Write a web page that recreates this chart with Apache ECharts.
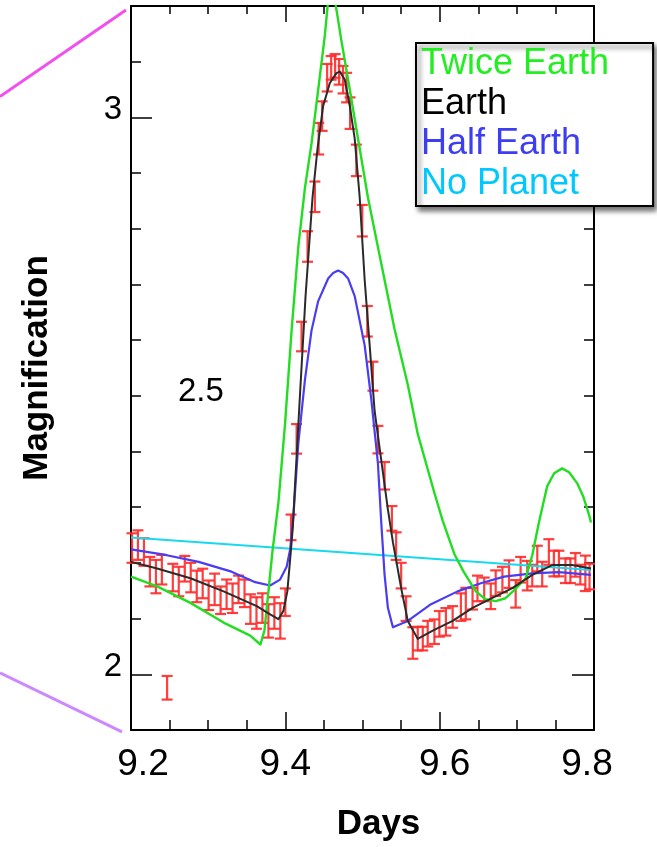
<!DOCTYPE html>
<html>
<head>
<meta charset="utf-8">
<script src="https://cdn.jsdelivr.net/npm/echarts@6/dist/echarts.min.js"></script>
<style>html,body{margin:0;padding:0;background:#fff;overflow:hidden}#c{width:657px;height:847px}</style>
</head>
<body>
<div id="c"></div>
<script>
// ---------- data (days, magnification) ----------
const xTicks = [9.2, 9.4, 9.6, 9.8];
const yMajorTicks = [2, 3];
const yInnerTicks = [2.5];
const legendNames = ['Twice Earth', 'Earth', 'Half Earth', 'No Planet'];

const twiceDays = [9.2000, 9.2339, 9.2770, 9.3200, 9.3545, 9.3677, 9.3729, 9.3781, 9.3832, 9.3910, 9.3996, 9.4081, 9.4168, 9.4254, 9.4339, 9.4426, 9.4512, 9.4548, 9.4587, 9.4626, 9.4665, 9.4726, 9.4835, 9.4942, 9.5071, 9.5243, 9.5415, 9.5587, 9.5716, 9.5932, 9.6039, 9.6190, 9.6310, 9.6468, 9.6594, 9.6726, 9.6852, 9.6964, 9.7114, 9.7200, 9.7286, 9.7394, 9.7484, 9.7587, 9.7677, 9.7781, 9.7858, 9.7935, 9.7961];
const twiceMag  = [2.1755, 2.1578, 2.1283, 2.0929, 2.0694, 2.0535, 2.0783, 2.1489, 2.2196, 2.3080, 2.4493, 2.6171, 2.7673, 2.8733, 2.9528, 3.0500, 3.1472, 3.2002, 3.2373, 3.2231, 3.1913, 3.1383, 3.0500, 2.9617, 2.8557, 2.7378, 2.6201, 2.5200, 2.4316, 2.3256, 2.2761, 2.2161, 2.1843, 2.1489, 2.1348, 2.1313, 2.1366, 2.1507, 2.1724, 2.2138, 2.2726, 2.3380, 2.3610, 2.3698, 2.3627, 2.3433, 2.3203, 2.2868, 2.2726];

const earthDays = [9.2000, 9.2339, 9.2770, 9.3200, 9.3630, 9.3803, 9.3910, 9.3974, 9.4026, 9.4065, 9.4097, 9.4120, 9.4190, 9.4262, 9.4352, 9.4417, 9.4490, 9.4577, 9.4662, 9.4706, 9.4770, 9.4835, 9.4899, 9.4964, 9.5028, 9.5093, 9.5157, 9.5243, 9.5329, 9.5394, 9.5501, 9.5587, 9.5716, 9.5910, 9.6168, 9.6426, 9.6684, 9.6942, 9.7200, 9.7458, 9.7716, 9.7961];
const earthMag  = [2.2019, 2.1901, 2.1724, 2.1489, 2.1224, 2.1078, 2.0989, 2.1136, 2.1489, 2.2108, 2.2638, 2.3256, 2.5023, 2.6790, 2.8557, 2.9440, 3.0205, 3.0618, 3.0795, 3.0823, 3.0677, 3.0205, 2.9617, 2.8557, 2.7085, 2.5906, 2.4728, 2.3845, 2.2961, 2.2373, 2.1548, 2.0959, 2.0636, 2.0783, 2.0959, 2.1194, 2.1371, 2.1548, 2.1784, 2.1961, 2.1961, 2.1901];

const halfDays = [9.2000, 9.2448, 9.2877, 9.3303, 9.3609, 9.3803, 9.3932, 9.4017, 9.4061, 9.4103, 9.4168, 9.4254, 9.4339, 9.4426, 9.4555, 9.4619, 9.4684, 9.4748, 9.4813, 9.4899, 9.5028, 9.5114, 9.5200, 9.5243, 9.5286, 9.5329, 9.5394, 9.5587, 9.5888, 9.6232, 9.6533, 9.6835, 9.7200, 9.7545, 9.7961];
const halfMag  = [2.2244, 2.2143, 2.2019, 2.1843, 2.1654, 2.1595, 2.1701, 2.1931, 2.2231, 2.2814, 2.4140, 2.5288, 2.6171, 2.6701, 2.7108, 2.7205, 2.7249, 2.7205, 2.7108, 2.6790, 2.5906, 2.4935, 2.3786, 2.2726, 2.1790, 2.1194, 2.0845, 2.0959, 2.1260, 2.1489, 2.1636, 2.1755, 2.1813, 2.1834, 2.1784];

const noPlanetDays = [9.2000, 9.4813, 9.7961];
const noPlanetMag  = [2.2458, 2.2184, 2.1873];

const obsDays = [9.2013, 9.2090, 9.2168, 9.2245, 9.2323, 9.2400, 9.2468, 9.2542, 9.2619, 9.2697, 9.2774, 9.2852, 9.2929, 9.3006, 9.3084, 9.3161, 9.3239, 9.3316, 9.3394, 9.3471, 9.3548, 9.3626, 9.3703, 9.3781, 9.3858, 9.3935, 9.4000, 9.4074, 9.4146, 9.4210, 9.4288, 9.4383, 9.4432, 9.4477, 9.4542, 9.4594, 9.4645, 9.4697, 9.4748, 9.4794, 9.4839, 9.4920, 9.4997, 9.5062, 9.5135, 9.5200, 9.5286, 9.5381, 9.5436, 9.5501, 9.5565, 9.5652, 9.5716, 9.5781, 9.5845, 9.5932, 9.5996, 9.6081, 9.6168, 9.6275, 9.6339, 9.6426, 9.6490, 9.6577, 9.6662, 9.6726, 9.6813, 9.6899, 9.6985, 9.7049, 9.7135, 9.7200, 9.7265, 9.7329, 9.7415, 9.7480, 9.7545, 9.7630, 9.7694, 9.7759, 9.7823, 9.7888, 9.7942];
const obsMag  = [2.2267, 2.2320, 2.2196, 2.1843, 2.1755, 2.1878, 1.9758, 2.1737, 2.1666, 2.1896, 2.1737, 2.1578, 2.1631, 2.1419, 2.1525, 2.1330, 2.1437, 2.1366, 2.1525, 2.1454, 2.1171, 2.1101, 2.1189, 2.0959, 2.1101, 2.0959, 2.1295, 2.2638, 2.4228, 2.6065, 2.7682, 2.8574, 2.9617, 3.0023, 3.0712, 3.0889, 3.0924, 3.0818, 3.0677, 3.0535, 3.0076, 2.9228, 2.8145, 2.6339, 2.5353, 2.4214, 2.3565, 2.2800, 2.2302, 2.1772, 2.1180, 2.0562, 2.0641, 2.0641, 2.0730, 2.0765, 2.0906, 2.0942, 2.1030, 2.1207, 2.1269, 2.1357, 2.1542, 2.1525, 2.1401, 2.1636, 2.1701, 2.1799, 2.1445, 2.1878, 2.1772, 2.1772, 2.2078, 2.1799, 2.2196, 2.1989, 2.1989, 2.1860, 2.1860, 2.1966, 2.1790, 2.1813, 2.1755];
const obsErr  = [0.0265, 0.0265, 0.0247, 0.0265, 0.0300, 0.0265, 0.0212, 0.0247, 0.0265, 0.0230, 0.0265, 0.0283, 0.0265, 0.0265, 0.0283, 0.0247, 0.0265, 0.0265, 0.0247, 0.0247, 0.0265, 0.0283, 0.0265, 0.0300, 0.0283, 0.0318, 0.0247, 0.0230, 0.0265, 0.0265, 0.0274, 0.0274, 0.0283, 0.0265, 0.0247, 0.0212, 0.0212, 0.0230, 0.0247, 0.0265, 0.0283, 0.0283, 0.0283, 0.0274, 0.0260, 0.0247, 0.0247, 0.0221, 0.0247, 0.0230, 0.0221, 0.0283, 0.0212, 0.0212, 0.0230, 0.0221, 0.0230, 0.0247, 0.0194, 0.0247, 0.0283, 0.0194, 0.0230, 0.0212, 0.0230, 0.0230, 0.0230, 0.0247, 0.0247, 0.0230, 0.0265, 0.0194, 0.0230, 0.0221, 0.0230, 0.0230, 0.0230, 0.0221, 0.0221, 0.0212, 0.0177, 0.0318, 0.0230];

// zoom guide lines from the parent figure (data space, extending left of the axis)
const guideTopDays = [9.0302, 9.1935];
const guideTopMag  = [3.0373, 3.1929];
const guideBotDays = [9.0302, 9.1883];
const guideBotMag  = [2.0026, 1.8965];

// ---------- chart ----------
const FF = '"Liberation Sans", Arial, Helvetica, sans-serif';
const zip = (a, b) => a.map((v, i) => [v, b[i]]);
const chart = echarts.init(document.getElementById('c'), null, {renderer: 'canvas', width: 657, height: 847});

const xRich = {
  a: {fontSize: 37, color: '#000', fontFamily: FF, padding: [0, 0, 0, 24]},
  b: {fontSize: 37, color: '#000', fontFamily: FF, padding: [0, 0, 0, 10]},
  c: {fontSize: 37, color: '#000', fontFamily: FF, padding: [0, 14, 0, 0]},
  n: {fontSize: 37, color: '#000', fontFamily: FF}
};
function xFmt(v) {
  const s = v.toFixed(1);
  if (s === '9.2') return '{a|' + s + '}';
  if (s === '9.6') return '{b|' + s + '}';
  if (s === '9.8') return '{c|' + s + '}';
  return '{n|' + s + '}';
}
const axisLineStyle = {color: '#000', width: 2};
const tickStyle = {color: '#000', width: 1.5};
const yBase = {type: 'value', min: 1.9, max: 3.2, splitLine: {show: false}};

const lineSeries = (name, days, mag, color, width, z) => ({
  name, type: 'line', data: zip(days, mag), showSymbol: false, symbol: 'none',
  smooth: false,
  lineStyle: {color, width, join: 'round'}, itemStyle: {color}, z, animation: false
});

const guideSeries = (name, days, mag, color) => ({
  name, type: 'custom', clip: false, silent: true, z: 1,
  data: [[days[0], mag[0], days[1], mag[1]]],
  encode: {x: [0, 2], y: [1, 3]},
  renderItem: function (params, api) {
    const p1 = api.coord([api.value(0), api.value(1)]);
    const p2 = api.coord([api.value(2), api.value(3)]);
    return {type: 'line', shape: {x1: p1[0], y1: p1[1], x2: p2[0], y2: p2[1]},
            style: {stroke: color, lineWidth: 3}};
  }
});

chart.setOption({
  animation: false,
  backgroundColor: '#ffffff',
  grid: {left: 131, right: 63, top: 6, bottom: 106, containLabel: false},
  legend: {
    orient: 'vertical', left: 416, top: 43,
    itemWidth: 0, itemHeight: 0, itemGap: 0, icon: 'rect',
    padding: [1, 44, 2, 0],
    backgroundColor: '#fff', borderColor: '#000', borderWidth: 2,
    shadowColor: 'rgba(0,0,0,0.55)', shadowBlur: 5, shadowOffsetX: 3, shadowOffsetY: 4,
    selectedMode: false,
    textStyle: {fontSize: 36, lineHeight: 40, fontFamily: FF},
    data: [
      {name: legendNames[0], textStyle: {color: '#22ee22'}},
      {name: legendNames[1], textStyle: {color: '#000000'}},
      {name: legendNames[2], textStyle: {color: '#3d3df2'}},
      {name: legendNames[3], textStyle: {color: '#00c8ff'}}
    ]
  },
  xAxis: [
    {
      type: 'value', position: 'bottom', min: 9.2, max: 9.8, interval: 0.2,
      name: 'Days', nameLocation: 'middle', nameGap: 77,
      nameTextStyle: {fontSize: 35, fontWeight: 'bold', color: '#000', fontFamily: FF, padding: [0, 0, 0, 32]},
      axisLine: {onZero: false, lineStyle: axisLineStyle},
      axisTick: {inside: true, length: 18, lineStyle: tickStyle},
      minorTick: {show: true, splitNumber: 4, length: 10, lineStyle: tickStyle},
      splitLine: {show: false},
      axisLabel: {customValues: xTicks, margin: 16, formatter: xFmt, rich: xRich, fontSize: 37, color: '#000', fontFamily: FF}
    },
    {
      type: 'value', position: 'top', min: 9.2, max: 9.8, interval: 0.2,
      axisLine: {onZero: false, lineStyle: axisLineStyle},
      axisTick: {inside: true, length: 16, lineStyle: tickStyle},
      minorTick: {show: true, splitNumber: 4, length: 8, lineStyle: tickStyle},
      splitLine: {show: false},
      axisLabel: {show: false}
    }
  ],
  yAxis: [
    Object.assign({}, yBase, {
      position: 'left', interval: 0.1,
      name: 'Magnification', nameLocation: 'middle', nameGap: 76, nameRotate: 90,
      nameTextStyle: {fontSize: 35, fontWeight: 'bold', color: '#000', fontFamily: FF},
      axisLine: {show: true, onZero: false, lineStyle: axisLineStyle},
      axisTick: {show: true, inside: true, length: 10, lineStyle: tickStyle},
      axisLabel: {show: false}
    }),
    Object.assign({}, yBase, {
      position: 'left',
      axisLine: {show: false},
      axisTick: {show: true, inside: true, length: 21, customValues: yMajorTicks, lineStyle: tickStyle},
      axisLabel: {
        customValues: yMajorTicks, margin: 9, fontSize: 33, color: '#000', fontFamily: FF,
        formatter: v => '{a|' + v + '}',
        rich: {a: {fontSize: 33, color: '#000', fontFamily: FF, padding: [0, 0, 14, 0]}}
      }
    }),
    Object.assign({}, yBase, {
      position: 'left',
      axisLine: {show: false},
      axisTick: {show: false},
      axisLabel: {
        inside: true, customValues: yInnerTicks, margin: 47, fontSize: 33, color: '#000', fontFamily: FF,
        formatter: v => '{a|' + v + '}',
        rich: {a: {fontSize: 33, color: '#000', fontFamily: FF, padding: [0, 0, 8, 0]}}
      }
    }),
    Object.assign({}, yBase, {
      position: 'right', interval: 0.1,
      axisLine: {show: true, onZero: false, lineStyle: axisLineStyle},
      axisTick: {show: true, inside: true, length: 10, lineStyle: tickStyle},
      axisLabel: {show: false}
    }),
    Object.assign({}, yBase, {
      position: 'right',
      axisLine: {show: false},
      axisTick: {show: true, inside: true, length: 22, customValues: yMajorTicks, lineStyle: tickStyle},
      axisLabel: {show: false}
    })
  ],
  series: [
    {
      name: 'Observed', type: 'custom', z: 2,
      data: obsDays.map((d, i) => [d, obsMag[i], obsErr[i]]),
      encode: {x: 0, y: 1},
      renderItem: function (params, api) {
        const x = api.value(0), y = api.value(1), e = api.value(2);
        const t = api.coord([x, y + e]);
        const b = api.coord([x, y - e]);
        const w = 5.5;
        const style = {stroke: '#ff2e2e', lineWidth: 2.2, opacity: 0.92};
        return {
          type: 'group',
          children: [
            {type: 'line', shape: {x1: t[0], y1: t[1], x2: b[0], y2: b[1]}, style},
            {type: 'line', shape: {x1: t[0] - w, y1: t[1], x2: t[0] + w, y2: t[1]}, style},
            {type: 'line', shape: {x1: b[0] - w, y1: b[1], x2: b[0] + w, y2: b[1]}, style}
          ]
        };
      }
    },
    lineSeries(legendNames[3], noPlanetDays, noPlanetMag, '#18d8ee', 2, 3),
    lineSeries(legendNames[2], halfDays, halfMag, '#4a3cf2', 2.2, 4),
    lineSeries(legendNames[0], twiceDays, twiceMag, '#22dd22', 2.4, 5),
    lineSeries(legendNames[1], earthDays, earthMag, '#2a2a2a', 2, 6),
    guideSeries('guideTop', guideTopDays, guideTopMag, '#f050ee'),
    guideSeries('guideBottom', guideBotDays, guideBotMag, '#cc88ff')
  ]
});
</script>
</body>
</html>
